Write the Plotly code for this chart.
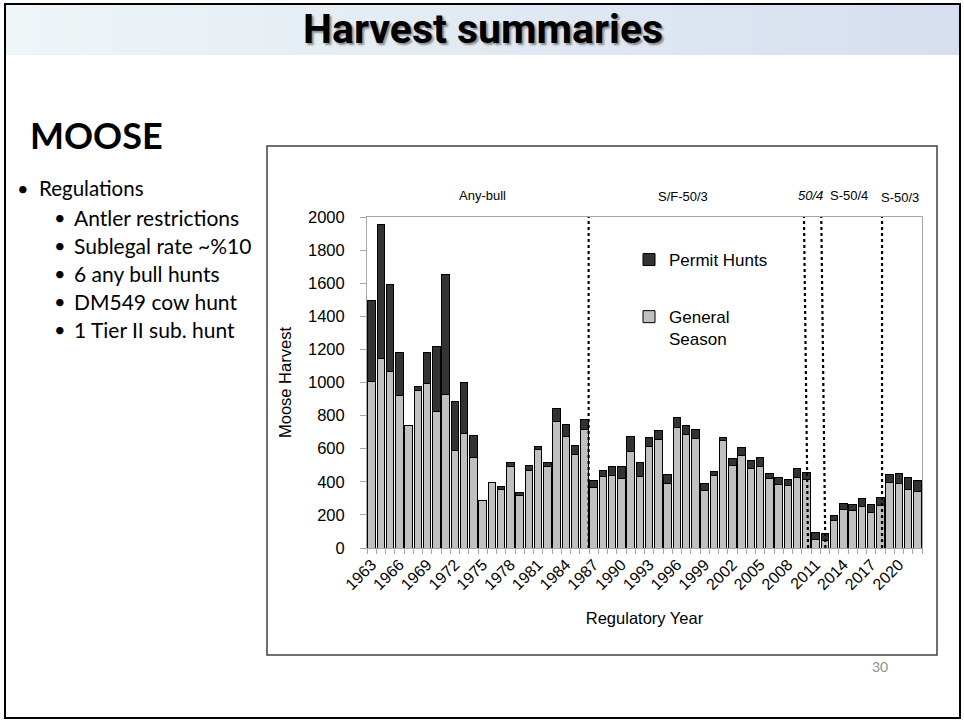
import plotly.graph_objects as go

# ---------------- data ----------------
years = list(range(1963, 2023))
general_season = [1006, 1143, 1066, 920, 739, 950, 992, 825, 926, 592,
                  691, 546, 289, 394, 353, 490, 319, 468, 594, 490,
                  765, 671, 564, 717, 365, 434, 438, 422, 582, 434,
                  614, 657, 390, 729, 685, 661, 349, 440, 651, 496,
                  556, 480, 492, 418, 382, 378, 426, 416, 52, 48,
                  165, 235, 225, 253, 217, 257, 396, 390, 355, 341]
permit_hunts = [488, 809, 524, 259, 0, 28, 191, 392, 729, 296,
                307, 135, 0, 0, 20, 26, 18, 28, 22, 26,
                80, 74, 54, 58, 41, 36, 56, 72, 93, 82,
                53, 52, 56, 60, 56, 54, 41, 24, 18, 42,
                54, 50, 54, 32, 42, 36, 52, 42, 40, 40,
                34, 36, 38, 46, 46, 48, 48, 62, 69, 67]
tick_years = list(range(1963, 2021, 3))
tick_labels = [str(y) for y in tick_years]
period_labels = ["Any-bull", "S/F-50/3", "<i>50/4</i>", "S-50/4", "S-50/3"]
period_label_x = [1975.0, 1996.7, 2010.4, 2014.6, 2020.1]
period_label_y_px = [195, 196, 195, 195, 198]
regime_lines_top = [1986.46, 2009.74, 2011.61, 2018.18]
regime_lines_bottom = [1986.46, 2010.18, 2012.05, 2018.18]
bullets_main = ["Regulations"]
bullets_sub = ["Antler restrictions", "Sublegal rate ~%10", "6 any bull hunts",
               "DM549 cow hunt", "1 Tier II sub. hunt"]

# ---------------- page geometry (pixels) ----------------
FW, FH = 964, 721
L, R, T, B = 367, 922, 217, 548
W, H = R - L, B - T


def px(x):
    return (x - L) / W


def py(y):
    return (B - y) / H


AX = "Liberation Sans, Arial, sans-serif"
SL = "Lato, Open Sans, sans-serif"

fig = go.Figure()
fig.add_trace(go.Bar(x=years, y=general_season, name="General<br>Season",
                     marker=dict(color="#C0C0C0", line=dict(color="#000000", width=1)),
                     legendgroup="g", legendrank=2))
fig.add_trace(go.Bar(x=years, y=permit_hunts, name="Permit Hunts",
                     marker=dict(color="#333333", line=dict(color="#000000", width=1)),
                     legendgroup="p", legendrank=1))

shapes = []
# slide banner gradient
n = 60
c0 = (238, 245, 247)
c1 = (213, 223, 239)
x_left, x_right = 5, 960
for i in range(n):
    t = i / (n - 1)
    col = tuple(round(c0[k] + (c1[k] - c0[k]) * t) for k in range(3))
    xa = x_left + (x_right - x_left) * i / n
    xb = x_left + (x_right - x_left) * (i + 1) / n + 0.6
    shapes.append(dict(type="rect", xref="paper", yref="paper", layer="below",
                       x0=px(xa), x1=px(xb), y0=py(5), y1=py(55),
                       line=dict(width=0), fillcolor="rgb(%d,%d,%d)" % col))
# slide border
shapes.append(dict(type="rect", xref="paper", yref="paper",
                   x0=px(5), x1=px(960), y0=py(4), y1=py(718),
                   line=dict(color="#000000", width=2)))
# chart frame
shapes.append(dict(type="rect", xref="paper", yref="paper", layer="below",
                   x0=px(267), x1=px(937), y0=py(146), y1=py(655),
                   line=dict(color="#404040", width=1.5)))
# regulation change lines
for xt, xb in zip(regime_lines_top, regime_lines_bottom):
    shapes.append(dict(type="line", xref="x", yref="y", x0=xb, x1=xt, y0=0, y1=2000,
                       line=dict(color="#000000", width=2.2, dash="dot")))


def ann(text, x, y, size, family=SL, xanchor="left", color="#000000", **kw):
    return dict(text=text, xref="paper", yref="paper", x=px(x), y=py(y),
                xanchor=xanchor, yanchor="middle", showarrow=False,
                font=dict(family=family, size=size, color=color, **kw))


annotations = [
    ann("<b>Harvest summaries</b>", 483, 29, 41, family="Roboto, Liberation Sans, sans-serif",
        xanchor="center", shadow="2px 2px 2px #8a8a8a"),
    ann("<b>MOOSE</b>", 28, 135, 36),
    ann("30", 880, 666, 14, xanchor="center", color="#8C8C8C"),
]
for t in bullets_main:
    annotations.append(ann("•", 15, 188, 20))
    annotations.append(ann(t, 37, 188, 20.5))
for i, t in enumerate(bullets_sub):
    yy = 217 + i * 28
    annotations.append(ann("•", 52, yy, 20))
    annotations.append(ann(t, 72, yy, 21))
for lab, lx, ly in zip(period_labels, period_label_x, period_label_y_px):
    annotations.append(dict(text=lab, xref="x", yref="paper", x=lx, y=py(ly),
                            xanchor="center", yanchor="middle",
                            showarrow=False, font=dict(family=AX, size=13, color="#000")))

fig.update_layout(
    width=FW, height=FH, autosize=False,
    margin=dict(l=L, r=FW - R, t=T, b=FH - B, pad=0),
    paper_bgcolor="#FFFFFF", plot_bgcolor="#FFFFFF",
    barmode="stack", bargap=0.18,
    font=dict(family=AX, size=16, color="#000000"),
    shapes=shapes, annotations=annotations,
    showlegend=True,
    legend=dict(x=px(629), y=py(242), xanchor="left", yanchor="top",
                traceorder="grouped", tracegroupgap=32, valign="top",
                font=dict(family=AX, size=17, color="#000"),
                bgcolor="rgba(0,0,0,0)", itemwidth=30),
    xaxis=dict(range=[1962.5, 2022.5], tickmode="array", tickvals=tick_years, ticktext=tick_labels,
               tickangle=-45, ticks="", showline=True, mirror=True, linecolor="#A6A6A6", linewidth=1,
               showgrid=False, zeroline=False, tickfont=dict(size=16),
               minor=dict(ticks="outside", tick0=1962.5, dtick=1, ticklen=5, tickcolor="#A6A6A6", showgrid=False),
               title=dict(text="Regulatory Year", font=dict(size=16.5), standoff=20)),
    yaxis=dict(range=[0, 2000], tickvals=list(range(0, 2001, 200)), ticks="outside", ticklen=6,
               tickcolor="#A6A6A6", showline=True, mirror=True, linecolor="#A6A6A6", linewidth=1,
               showgrid=False, zeroline=False, tickfont=dict(size=16.5), ticklabelstandoff=12,
               title=dict(text="Moose Harvest", font=dict(size=16.5), standoff=12)),
)

fig.write_html("out.html", config={"displayModeBar": False},
               post_script="document.body.style.margin='0';document.body.style.overflow='hidden';")
